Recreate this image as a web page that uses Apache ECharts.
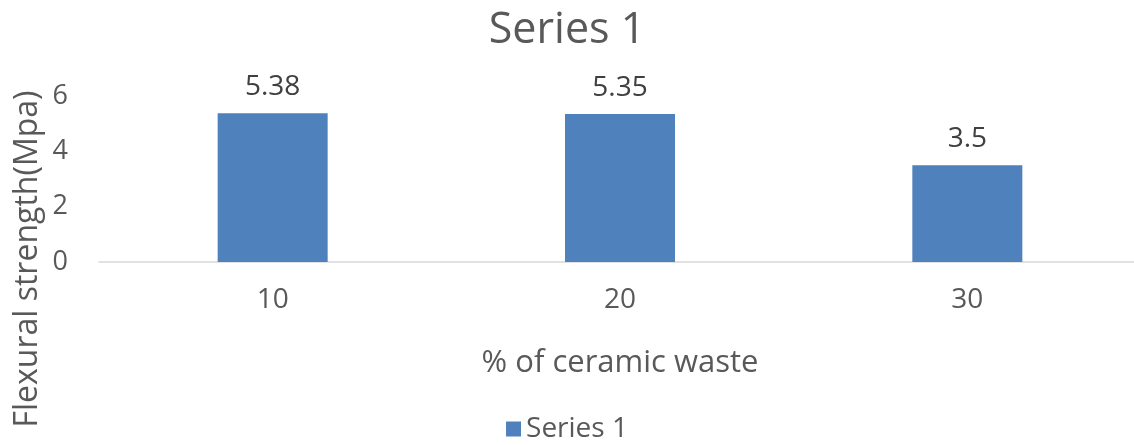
<!DOCTYPE html>
<html>
<head>
<meta charset="utf-8">
<script src="https://cdn.jsdelivr.net/npm/echarts@6/dist/echarts.min.js"></script>
<style>html,body{margin:0;padding:0;background:#fff}#c{width:1134px;height:445px}</style>
</head>
<body>
<div id="c"></div>
<script>
const categories = ['10', '20', '30'];
const values = [5.38, 5.35, 3.5];
const seriesName = 'Series 1';
const titleText = 'Series 1';
const xName = '% of ceramic waste';
const yName = 'Flexural strength(Mpa)';

const FONT = '"Open Sans", "Noto Sans", sans-serif';
const chart = echarts.init(document.getElementById('c'));
chart.setOption({
  animation: false,
  backgroundColor: '#fff',
  title: {
    text: titleText, left: 'center', top: 4,
    textStyle: { fontFamily: FONT, fontSize: 43, fontWeight: 'normal', color: '#595959' }
  },
  legend: {
    bottom: -3, left: 'center', itemWidth: 15, itemHeight: 15, itemGap: 11,
    icon: 'rect',
    textStyle: { fontFamily: FONT, fontSize: 28, color: '#595959' },
    data: [seriesName]
  },
  grid: { left: 99, top: 96, bottom: 183, width: 1042, containLabel: false, outerBoundsMode: 'none' },
  xAxis: {
    type: 'category', data: categories,
    axisLine: { lineStyle: { color: '#D9D9D9', width: 1.5 } },
    axisTick: { show: false },
    axisLabel: { fontFamily: FONT, fontSize: 28, color: '#595959', margin: 24 },
    name: xName, nameLocation: 'middle', nameGap: 86,
    nameTextStyle: { fontFamily: FONT, fontSize: 31, color: '#595959' }
  },
  yAxis: {
    type: 'value', min: 0, max: 6, interval: 2,
    axisLine: { show: false }, axisTick: { show: false },
    splitLine: { show: false },
    axisLabel: { fontFamily: FONT, fontSize: 27, color: '#595959', margin: 31 }
  },
  graphic: [{
    type: 'text', x: 28, y: 259, rotation: Math.PI / 2,
    style: { text: yName, fontFamily: FONT, fontSize: 32, fill: '#595959', align: 'center', verticalAlign: 'middle' }
  }],
  series: [{
    name: seriesName, type: 'bar', data: values, barWidth: 110,
    itemStyle: { color: '#4F81BD' },
    label: { show: true, position: 'top', distance: 12, fontFamily: FONT, fontSize: 28, color: '#404040' }
  }]
});
</script>
</body>
</html>
